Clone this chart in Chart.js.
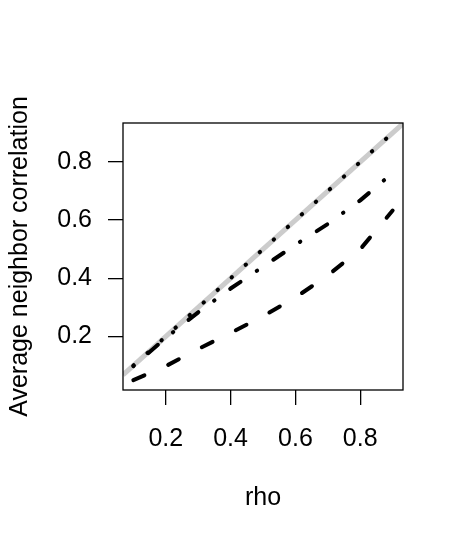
<!DOCTYPE html>
<html>
<head>
<meta charset="utf-8">
<script src="https://cdn.jsdelivr.net/npm/chart.js@4/dist/chart.umd.min.js"></script>
<style>
  body { margin: 0; background: #fff; }
  canvas { display: block; }
</style>
</head>
<body>
<canvas id="chart" width="465" height="544"></canvas>
<script>
// data
const rho = [0.1, 0.2, 0.3, 0.4, 0.5, 0.6, 0.7, 0.8, 0.9];
const dottedVals = [0.1, 0.2, 0.3, 0.4, 0.5, 0.6, 0.7, 0.8, 0.9];
const dotDashVals = [0.098, 0.195, 0.283, 0.365, 0.44, 0.515, 0.587, 0.668, 0.762];
const dashedVals = [0.05, 0.098, 0.157, 0.212, 0.27, 0.334, 0.41, 0.50, 0.633];
const xTicks = [0.2, 0.4, 0.6, 0.8];
const yTicks = [0.2, 0.4, 0.6, 0.8];
const xRange = [0.068, 0.932];
const yRange = [0.016, 0.934];

const $ = (id) => document.getElementById(id);
const pts = (ys) => rho.map((x, i) => ({ x, y: ys[i] }));
const FONT = 'Liberation Sans, Arial, Helvetica, sans-serif';

// full box around the plot region
const boxPlugin = {
  id: 'box',
  afterDraw(c) {
    const { ctx, chartArea: a } = c;
    ctx.save();
    ctx.strokeStyle = '#000';
    ctx.lineWidth = 1.3;
    ctx.strokeRect(a.left, a.top, a.right - a.left, a.bottom - a.top);
    ctx.restore();
  }
};

const line = (data, dash, extra) => Object.assign({
  data, borderColor: '#000', borderWidth: 4, borderDash: dash,
  borderCapStyle: 'round', borderJoinStyle: 'round',
  pointRadius: 0, fill: false, tension: 0
}, extra);

new Chart($('chart'), {
  type: 'line',
  data: {
    datasets: [
      line(pts(dottedVals), [0.5, 18.35]),
      line(pts(dotDashVals), [0.5, 19.5, 12.5, 19.5]),
      line(pts(dashedVals), [12, 26]),
      line(xRange.map(v => ({ x: v, y: v })), [], { borderColor: '#cccccc', borderWidth: 5, borderCapStyle: 'butt' })
    ]
  },
  options: {
    responsive: false,
    animation: false,
    events: [],
    layout: { padding: { top: 123, right: 62, left: 0, bottom: 0 } },
    plugins: { legend: { display: false }, tooltip: { enabled: false } },
    scales: {
      x: {
        type: 'linear', min: xRange[0], max: xRange[1],
        afterBuildTicks: (s) => { s.ticks = xTicks.map(v => ({ value: v })); },
        afterFit: (s) => { s.height = 154; },
        grid: { drawOnChartArea: false, tickLength: 15, color: '#000', lineWidth: 1.3 },
        border: { display: false },
        ticks: { color: '#000', font: { family: FONT, size: 25 }, padding: 19, maxRotation: 0,
                 callback: (v) => v.toFixed(1) },
        title: { display: true, text: 'rho', color: '#000', font: { family: FONT, size: 25 }, padding: { bottom: 31 } }
      },
      y: {
        type: 'linear', min: yRange[0], max: yRange[1],
        afterBuildTicks: (s) => { s.ticks = yTicks.map(v => ({ value: v })); },
        afterFit: (s) => { s.width = 123; },
        grid: { drawOnChartArea: false, tickLength: 15, color: '#000', lineWidth: 1.3 },
        border: { display: false },
        ticks: { color: '#000', font: { family: FONT, size: 25 }, padding: 16,
                 callback: (v) => v.toFixed(1) },
        title: { display: true, text: 'Average neighbor correlation', color: '#000', font: { family: FONT, size: 25 }, padding: { top: 5 } }
      }
    }
  },
  plugins: [boxPlugin]
});
</script>
</body>
</html>
